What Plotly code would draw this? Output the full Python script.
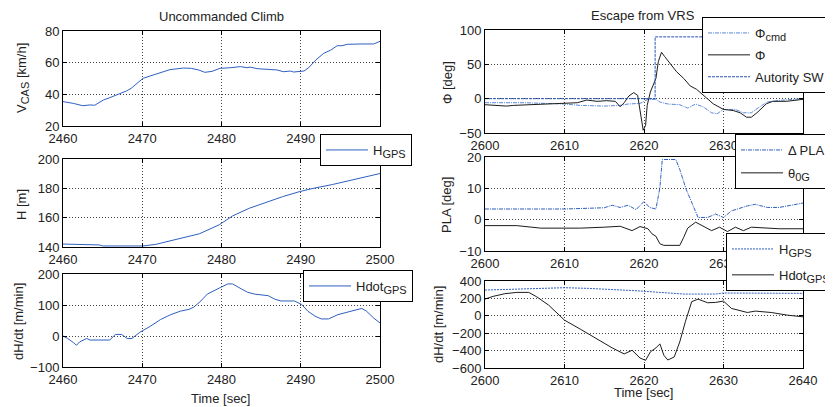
import plotly.graph_objects as go

# ---------------- DATA ----------------
# Left column: Uncommanded Climb
t_vcas = [2460, 2461.3, 2462.5, 2463.4, 2464, 2465.1, 2465.9, 2467, 2468, 2468.6, 2469.5, 2470.1, 2471,
          2472.2, 2473.5, 2475.2, 2476.2, 2477.1, 2477.9, 2478.8, 2479.8, 2481.1, 2482.4, 2483.2, 2483.6,
          2484.5, 2485.7, 2487, 2487.8, 2488.7, 2489.1, 2490.4, 2491, 2491.9, 2492.9, 2493.8, 2494.6,
          2495.2, 2495.9, 2496.7, 2497.6, 2499.2, 2500]
vcas = [35.4, 34.3, 32.8, 33.3, 33.1, 36.4, 37.9, 40, 42.1, 43.8, 47.6, 50.1, 51.6,
        53.7, 55.6, 56.6, 56.4, 55.4, 53.9, 54.5, 56.4, 56.8, 57.5, 56.8, 57.2,
        56.2, 56.0, 55.4, 54.3, 54.7, 54.1, 54.7, 56.8, 61.7, 65.9, 68, 70.7,
        70.7, 71.6, 71.8, 71.8, 71.8, 73.5]

t_h = [2460, 2461.3, 2461.7, 2464.6, 2465, 2470.1, 2471.7, 2474.3, 2477.2, 2479.7, 2481.4, 2483.5,
       2485.6, 2487.7, 2489.8, 2491.5, 2494, 2496.5, 2498.2, 2500]
h_gps = [142.0, 141.8, 141.4, 141.4, 140.7, 140.7, 141.8, 145, 149, 155.1, 161.2, 166.4,
         170.5, 174.3, 177.7, 179.9, 182.6, 185.6, 187.8, 190.1]

t_hdot = [2460, 2460.6, 2461.3, 2461.7, 2462.1, 2463, 2463.4, 2465.9, 2466.6, 2467.4, 2468.1, 2468.7,
          2469.7, 2471, 2472.3, 2473.6, 2474.8, 2475.9, 2476.5, 2477.4, 2478.2, 2479.1, 2479.9, 2480.8,
          2481.4, 2482.5, 2483.3, 2484.2, 2485.9, 2486.7, 2487.5, 2489.2, 2490.1, 2490.9, 2491.8, 2492.6,
          2493.5, 2494.7, 2496, 2496.9, 2497.7, 2498.3, 2499.2, 2500]
hdot_gps = [0, -8, -21, -30, -19, -8, -13, -13, 5, 5, -8, -8,
            12, 31, 53, 69, 80, 86, 93, 113, 135, 148, 157, 168,
            168, 152, 141, 135, 130, 119, 113, 113, 102, 80, 64, 55,
            55, 69, 78, 82, 89, 80, 58, 42]

# Right column: Escape from VRS
t_sw = [2600, 2621.4, 2621.4, 2640]
autority_sw = [0, 0, 90, 90]

t_phi = [2600, 2601.5, 2602.7, 2603.6, 2605.7, 2607.8, 2609.9, 2611.6, 2612.8, 2614.1, 2615.3, 2616.4,
         2617, 2617.5, 2618.1, 2618.7, 2619.2, 2619.4, 2619.7, 2619.9, 2620.2, 2620.4, 2620.8, 2621.2,
         2621.5, 2621.8, 2622.2, 2622.6, 2623.3, 2624.1, 2625, 2625.8, 2626.6, 2627.5, 2628.7, 2630,
         2631.2, 2632.1, 2632.9, 2633.5, 2634.2, 2635.4, 2636.2, 2637.9, 2640]
phi = [-8.8, -9.8, -10.8, -9.8, -8.8, -8.8, -7.8, -5.9, -2, -3.9, -2.9, -3.9,
       -11.8, -5.9, 3.9, 8.8, 4.9, -9.8, -29.4, -46, -39, -9.8, 9.8, 19.6,
       29.4, 53.9, 67.6, 61.3, 51.5, 39.2, 29.4, 18.6, 13.7, 4.9, -7.4, -15.7,
       -17.2, -20.6, -27, -27, -20.6, -7.4, -3.9, -3.9, -1]

t_phicmd = [2600, 2605, 2610, 2612, 2615, 2617, 2618, 2619.5, 2620.5, 2621.5, 2622, 2623, 2624.5,
            2625.5, 2626.5, 2627.5, 2628.5, 2629.2, 2630, 2631.5, 2632.5, 2633.5, 2634.5, 2635.5,
            2637, 2640]
phi_cmd = [-5.9, -5.9, -7.8, -9.8, -10.8, -9.8, -7.8, -6.9, -1, -1, -4.9, -7.8, -8.8,
           -13.7, -7.8, -12.3, -20.6, -22, -15.7, -15.7, -20.6, -20.6, -12.3, -4.9,
           -2.5, 0]

t_pla = [2600, 2605, 2610, 2615, 2616, 2617, 2618, 2619, 2620, 2620.7, 2621.5, 2622, 2622.3,
         2624, 2624.5, 2625.3, 2626, 2626.8, 2628, 2629, 2630, 2631, 2633, 2634, 2635.5, 2637, 2640]
delta_pla = [3.4, 3.3, 3.4, 3.8, 4.6, 3.9, 4.6, 3.2, 5.8, 3.9, 3.4, 10.2, 19.2,
             19.2, 16, 9.7, 5.5, 0.7, 0.7, 1.8, 0.7, 2.8, 4.4, 4.9, 3.9, 3.9, 5.3]

t_theta = [2600, 2604, 2607, 2612, 2615, 2617, 2618.5, 2619.5, 2620.5, 2621, 2621.5, 2622, 2622.5,
           2624.5, 2625, 2625.5, 2626.5, 2627.5, 2628.5, 2629.5, 2630.5, 2631.5, 2632.5, 2633.5,
           2635, 2637, 2640]
theta_0g = [-1.9, -1.9, -2.7, -2.7, -2.4, -2.1, -3.5, -2.2, -2.9, -4.5, -5.3, -7.7, -8.2,
            -8.2, -5.6, -2.7, -0.8, -2.1, -3.5, -2.4, -3.8, -2.4, -3.5, -2.4,
            -2.7, -2.9, -2.9]

t_hgps_r = [2600, 2605, 2606, 2610, 2613, 2616, 2619, 2622, 2625, 2629, 2630, 2640]
h_gps_r = [296, 308, 319, 323, 315, 304, 288, 269, 250, 250, 262, 258]

t_hdot_r = [2600, 2601, 2602.5, 2604, 2605.5, 2606.5, 2608, 2610, 2612, 2614, 2616, 2617.5, 2618.5,
            2619.5, 2620.2, 2620.8, 2621.5, 2622, 2622.5, 2623, 2623.8, 2624.5, 2625.2, 2626, 2626.8,
            2628, 2629, 2630, 2631, 2633, 2634, 2636, 2638, 2640]
hdot_gps_r = [192, 223, 254, 269, 269, 219, 123, -50, -154, -262, -369, -438, -396,
              -485, -512, -415, -369, -323, -454, -508, -473, -300, -69, 162, 192,
              150, 154, 169, 85, 38, 54, 38, 8, -12]

left_xticks = [2460, 2470, 2480, 2490, 2500]
right_xticks = [2600, 2610, 2620, 2630, 2640]

# ---------------- FIGURE ----------------
OFF = 8                      # the page body margin; figure drawn from (8, 8)
W, H = 833 - OFF, 407 - OFF
FONT = "Liberation Sans, Arial, sans-serif"
BLUE = "#2f5fc0"
LBLUE = "#5a88d8"
DBLUE = "#2a52b4"
BLACK = "#1c1c1c"
TXT = "#222222"

def sub(s):
    return '<sub><span style="font-size:11px">' + s + '</span></sub>'

def fx(p):
    return (p - OFF) / W

def fy(p):
    return 1 - (p - OFF) / H

fig = go.Figure()

def add(x, y, ax, name, color, dash="solid", legend="legend", show=True, width=1, group=None):
    fig.add_trace(go.Scatter(x=x, y=y, mode="lines", name=name,
                             line=dict(color=color, width=width, dash=dash),
                             xaxis="x" + ("" if ax == 1 else str(ax)),
                             yaxis="y" + ("" if ax == 1 else str(ax)),
                             legend=legend, showlegend=show, legendgroup=group))

add(t_vcas, vcas, 1, "V" + sub("CAS"), BLUE, show=False)
add(t_h, h_gps, 2, "H" + sub("GPS"), BLUE, legend="legend")
add(t_hdot, hdot_gps, 3, "Hdot" + sub("GPS"), BLUE, legend="legend2")
add(t_phicmd, phi_cmd, 4, "Φ" + sub("cmd"), LBLUE, dash="4px,1px,1px,1px", legend="legend3", group="a")
add(t_phi, phi, 4, "Φ", BLACK, legend="legend3", group="b")
add(t_sw, autority_sw, 4, "Autority SW", DBLUE, dash="3px,1px", legend="legend3", group="c")
add(t_pla, delta_pla, 5, "Δ PLA", BLUE, dash="4px,1px,1px,1px", legend="legend4", group="d")
add(t_theta, theta_0g, 5, "θ" + sub("0G"), BLACK, legend="legend4", group="e")
add(t_hgps_r, h_gps_r, 6, "H" + sub("GPS"), BLUE, dash="2px,1px", legend="legend5", group="f")
add(t_hdot_r, hdot_gps_r, 6, "Hdot" + sub("GPS"), BLACK, legend="legend5", group="g")

axis_common = dict(showline=True, linecolor="black", linewidth=1, mirror="ticks",
                   ticks="inside", ticklen=4, tickcolor="black",
                   showgrid=True, gridcolor="#444444", griddash="1px,2px", gridwidth=1,
                   zeroline=False, tickfont=dict(family=FONT, size=13, color=TXT))

panels = [
    # (idx, xdom px, ydom px, xrange, xticks, yrange, yticks)  -- px in the 833x407 reference
    (1, (63, 380), (31, 126), [2460, 2500], left_xticks, [20, 80], [20, 40, 60, 80]),
    (2, (63, 380), (159, 247), [2460, 2500], left_xticks, [140, 200], [140, 160, 180, 200]),
    (3, (63, 380), (274, 367), [2460, 2500], left_xticks, [-100, 200], [-100, 0, 100, 200]),
    (4, (485, 803), (30, 133), [2600, 2640], right_xticks, [-50, 100], [-50, 0, 50, 100]),
    (5, (485, 803), (157, 251), [2600, 2640], right_xticks, [-10, 20], [-10, 0, 10, 20]),
    (6, (485, 803), (281, 368), [2600, 2640], right_xticks, [-600, 400], [-600, -400, -200, 0, 200, 400]),
]
layout_axes = {}
for idx, (xa, xb), (ytop, ybot), xr, xt, yr, ytk in panels:
    sfx = "" if idx == 1 else str(idx)
    layout_axes["xaxis" + sfx] = dict(axis_common, domain=[fx(xa), fx(xb)], range=xr, tickvals=xt,
                                      anchor="y" + sfx)
    layout_axes["yaxis" + sfx] = dict(axis_common, domain=[fy(ybot), fy(ytop)], range=yr, tickvals=ytk,
                                      anchor="x" + sfx)

def legend_at(xpx, ypx, gap=0):
    return dict(x=fx(xpx), y=fy(ypx), xanchor="left", yanchor="top", xref="paper", yref="paper",
                bgcolor="white", bordercolor="black", borderwidth=1, itemwidth=42,
                tracegroupgap=gap,
                font=dict(family=FONT, size=13, color=TXT))

fig.update_layout(
    width=W, height=H,
    margin=dict(l=0, r=0, t=0, b=0, pad=0, autoexpand=False),
    paper_bgcolor="white", plot_bgcolor="white",
    font=dict(family=FONT, size=13, color=TXT),
    legend=legend_at(320, 134),
    legend2=legend_at(303, 270),
    legend3=legend_at(702, 17, 2),
    legend4=legend_at(735, 134, 3),
    legend5=legend_at(726, 233, 6),
    **layout_axes,
)

def ann(text, xpx, ypx, angle=0):
    fig.add_annotation(text=text, x=fx(xpx), y=fy(ypx), xref="paper", yref="paper",
                       showarrow=False, textangle=angle, xanchor="center", yanchor="middle",
                       font=dict(family=FONT, size=13, color=TXT))

ann("Uncommanded Climb", 221, 17)
ann("Escape from VRS", 643, 15)
ann("V" + sub("CAS") + " [km/h]", 22, 78, -90)
ann("H [m]", 22, 205, -90)
ann("dH/dt [m/min]", 18, 322, -90)
ann("Φ [deg]", 447, 83, -90)
ann("PLA [deg]", 447, 205, -90)
ann("dH/dt [m/min]", 438, 325, -90)
ann("Time [sec]", 220, 398)
ann("Time [sec]", 643, 392)

fig.write_html("out.html")
